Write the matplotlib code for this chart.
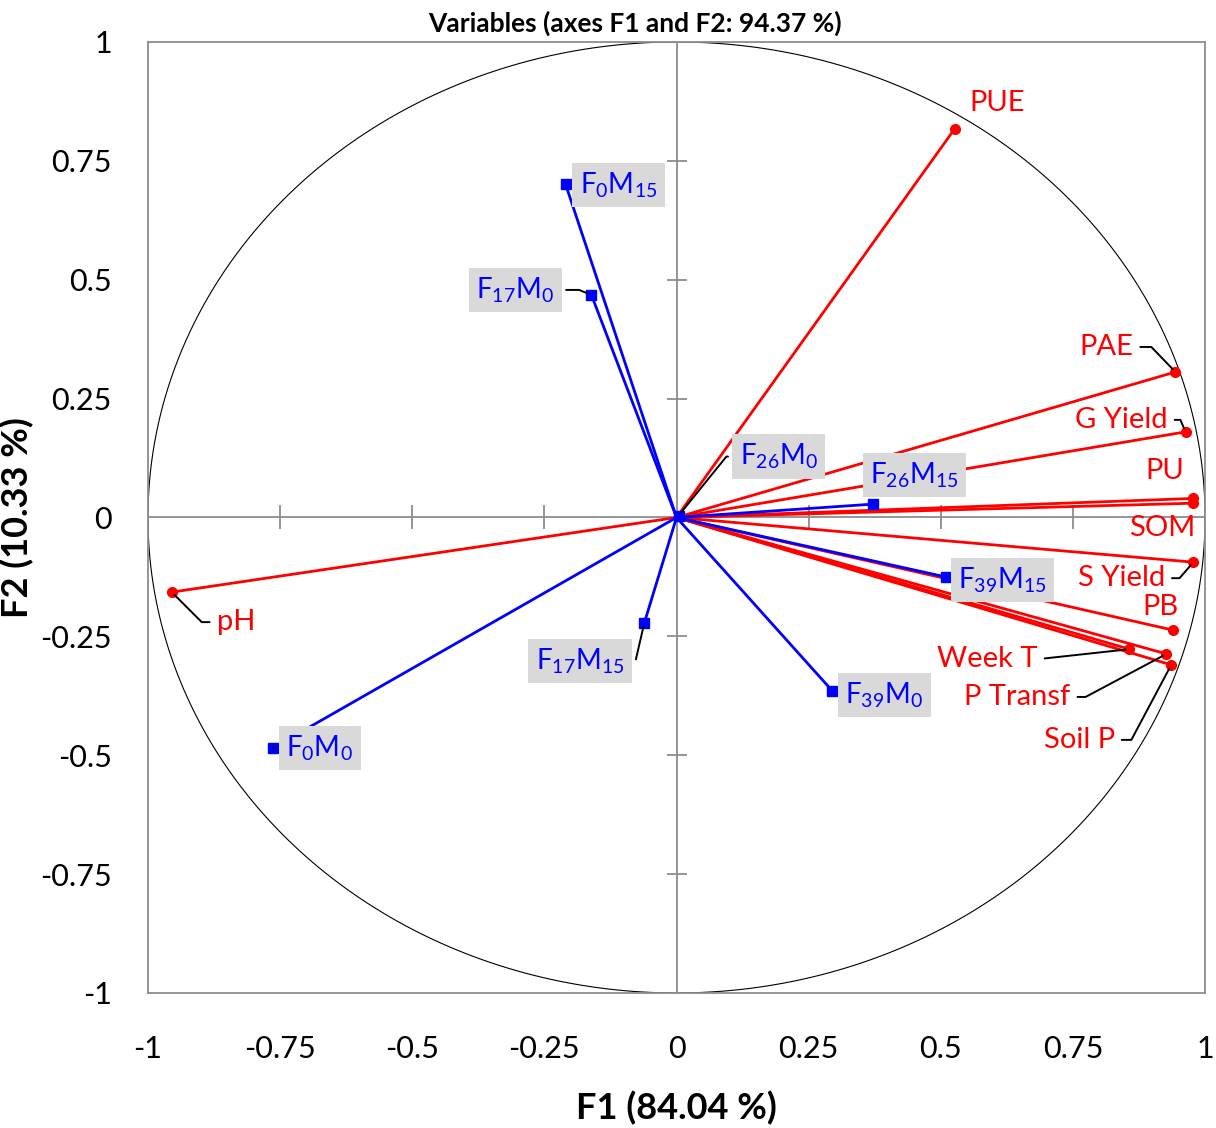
import matplotlib
matplotlib.use("Agg")
import matplotlib.pyplot as plt
import numpy as np

plt.rcParams['font.family'] = ['Lato', 'DejaVu Sans']
plt.rcParams['mathtext.fontset'] = 'custom'
plt.rcParams['mathtext.rm'] = 'Lato'
plt.rcParams['mathtext.it'] = 'Lato:italic'
plt.rcParams['mathtext.bf'] = 'Lato:bold'

# variables (red)
var_names = ['PUE', 'PAE', 'G Yield', 'PU', 'SOM', 'S Yield', 'PB',
             'Week T', 'P Transf', 'Soil P', 'pH']
var_x = [0.526, 0.944, 0.963, 0.977, 0.977, 0.978, 0.940, 0.857, 0.927, 0.936, -0.955]
var_y = [0.817, 0.306, 0.180, 0.040, 0.030, -0.094, -0.237, -0.277, -0.287, -0.310, -0.157]

# observations (blue)
obs_names = [r'F$_{0}$M$_{15}$', r'F$_{17}$M$_{0}$', r'F$_{26}$M$_{0}$', r'F$_{26}$M$_{15}$',
             r'F$_{39}$M$_{15}$', r'F$_{39}$M$_{0}$', r'F$_{17}$M$_{15}$', r'F$_{0}$M$_{0}$']
obs_x = [-0.210, -0.161, 0.004, 0.371, 0.509, 0.295, -0.061, -0.764]
obs_y = [0.701, 0.468, 0.004, 0.028, -0.125, -0.365, -0.222, -0.485]

ticks = [-1, -0.75, -0.5, -0.25, 0, 0.25, 0.5, 0.75, 1]
tick_labels = ['-1', '-0.75', '-0.5', '-0.25', '0', '0.25', '0.5', '0.75', '1']

# label placement: offset in pixels (dx, dy up), leader angle (None = no leader, 'straight')
var_lab = {
    'PUE': ((43, 26), None),
    'PAE': ((-69, 25), -46),
    'G Yield': ((-64, 12), -67),
    'PU': ((-28, 27), None),
    'SOM': ((-31, -25), None),
    'S Yield': ((-72, -16), 49),
    'PB': ((-13, 23), None),
    'Week T': ((-142, -10), 'straight'),
    'P Transf': ((-149, -43), 28),
    'Soil P': ((-92, -75), 62),
    'pH': ((64, -30), 135),
}
obs_lab = [((53, -1), None), ((-76, 5), -22), ((100, 59), 51), ((42, 29), None),
           ((57, -3), None), ((52, -4), None), ((-64, -38), 77), ((47, 0), 'straight')]

red = '#FF0000'
blue = '#0000FF'
grey = '#8C8C8C'

fig = plt.figure(figsize=(12.16, 11.28), dpi=100)
ax = fig.add_axes([0.1217, 0.1197, 0.8693, 0.8431])
ax.set_xlim(-1, 1)
ax.set_ylim(-1, 1)

# correlation circle
t = np.linspace(0, 2 * np.pi, 400)
ax.plot(np.cos(t), np.sin(t), color='black', lw=0.8, zorder=1)

# axis lines through origin with ticks
ax.axhline(0, color=grey, lw=1.3, zorder=1)
ax.axvline(0, color=grey, lw=1.3, zorder=1)
inner = [v for v in ticks if v not in (-1, 0, 1)]
ax.plot(inner, [0] * len(inner), ls='none', marker='|', ms=17, mew=1.3, color=grey, zorder=1)
ax.plot([0] * len(inner), inner, ls='none', marker='_', ms=15, mew=1.3, color=grey, zorder=1)

for x, y in zip(var_x, var_y):
    ax.plot([0, x], [0, y], color=red, lw=2, zorder=2)
ax.plot(var_x, var_y, ls='none', marker='o', ms=7, color=red, zorder=3)
for x, y in zip(obs_x, obs_y):
    ax.plot([0, x], [0, y], color=blue, lw=2, zorder=2)
ax.plot(obs_x, obs_y, ls='none', marker='s', ms=7, color=blue, zorder=3)


def label(text, x, y, off, ang, color, box):
    kw = dict(xy=(x, y), xytext=off, textcoords='offset pixels', ha='center', va='center',
              fontsize=20 if box else 21, color=color, zorder=5)
    if box:
        kw['bbox'] = dict(boxstyle='square,pad=0.27', fc='#D9D9D9', ec='none')
    if ang is not None:
        rel = (1, 0.5) if off[0] < 0 else (0, 0.5)
        cs = 'arc3' if ang == 'straight' else 'angle,angleA=0,angleB=%d,rad=0' % ang
        kw['arrowprops'] = dict(arrowstyle='-', color='black', lw=1.4, shrinkA=3, shrinkB=3,
                                relpos=rel, connectionstyle=cs)
    ax.annotate(text, **kw)


for n, x, y in zip(var_names, var_x, var_y):
    off, ang = var_lab[n]
    label(n, x, y, off, ang, red, False)
for n, x, y, (off, ang) in zip(obs_names, obs_x, obs_y, obs_lab):
    label(n, x, y, off, ang, blue, True)

ax.set_xticks(ticks)
ax.set_xticklabels(tick_labels)
ax.set_yticks(ticks)
ax.set_yticklabels(tick_labels)
ax.tick_params(length=0, labelsize=22)
ax.tick_params(axis='x', pad=30)
ax.tick_params(axis='y', pad=26)
for s in ax.spines.values():
    s.set_color(grey)
    s.set_linewidth(1.3)

ax.set_title('Variables (axes F1 and F2: 94.37 %)', fontsize=19, fontweight='bold', pad=7, x=0.461)
ax.set_xlabel('F1 (84.04 %)', fontsize=26, fontweight='bold', labelpad=20)
ax.set_ylabel('F2 (10.33 %)', fontsize=26, fontweight='bold', labelpad=4)

fig.savefig('out.png', dpi=100)
